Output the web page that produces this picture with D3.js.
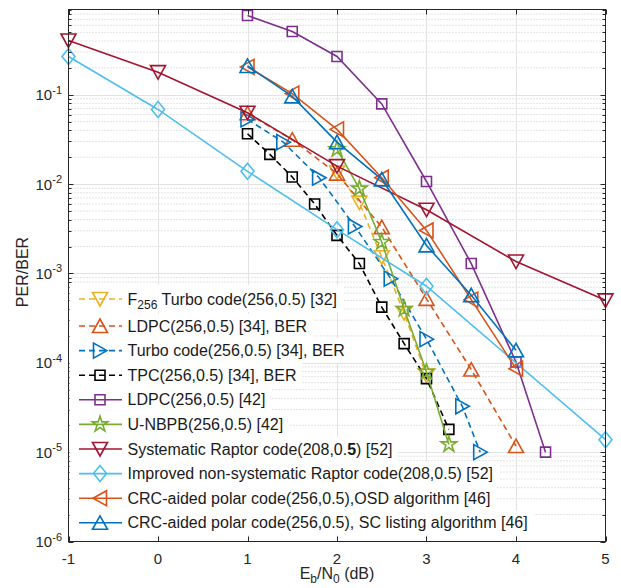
<!DOCTYPE html>
<html>
<head>
<meta charset="utf-8">
<script src="https://cdn.jsdelivr.net/npm/d3@7"></script>
<style>
  html, body { margin: 0; padding: 0; background: #fff; }
  svg { display: block; font-family: "Liberation Sans", Arial, Helvetica, sans-serif; }
</style>
</head>
<body>
<svg id="chart" width="621" height="588"></svg>
<script>
// ---- data ----
const xTicks = [-1, 0, 1, 2, 3, 4, 5];
const yTickExponents = [-6, -5, -4, -3, -2, -1];

const f256TurboX = [2, 2.25, 2.5, 2.75, 3];
const f256TurboY = [0.0135, 0.0062, 0.00152, 3.6e-4, 7.2e-5];

const ldpcBerX = [1, 1.5, 2, 2.5, 3, 3.5, 4];
const ldpcBerY = [0.062, 0.0314, 0.0131, 0.0033, 5.2e-4, 8.4e-5, 1.17e-5];

const turboBerX = [1, 1.4, 1.8, 2.2, 2.6, 3, 3.4, 3.6];
const turboBerY = [0.053, 0.0295, 0.0118, 0.00336, 8.75e-4, 1.84e-4, 3.26e-5, 1.0e-5];

const tpcBerX = [1, 1.25, 1.5, 1.75, 2, 2.25, 2.5, 2.75, 3, 3.25];
const tpcBerY = [0.0366, 0.0215, 0.012, 0.006, 0.00267, 0.00129, 4.2e-4, 1.64e-4, 6.65e-5, 1.8e-5];

const ldpc42X = [1, 1.5, 2, 2.5, 3, 3.5, 4, 4.33];
const ldpc42Y = [0.77, 0.51, 0.268, 0.079, 0.0107, 0.00129, 1.02e-4, 1.0e-5];

const unbpbX = [2, 2.25, 2.5, 2.75, 3, 3.25];
const unbpbY = [0.0245, 0.0089, 0.00225, 4.0e-4, 7.9e-5, 1.22e-5];

const sysRaptorX = [-1, 0, 1, 2, 3, 4, 5];
const sysRaptorY = [0.405, 0.179, 0.063, 0.0159, 0.00517, 0.00136, 5.0e-4];

const impRaptorX = [-1, 0, 1, 2, 3, 5];
const impRaptorY = [0.268, 0.0685, 0.0139, 0.00309, 7.2e-4, 1.38e-5];

const polarOsdX = [1, 1.5, 2, 2.5, 3, 3.5, 4];
const polarOsdY = [0.205, 0.103, 0.041, 0.0118, 0.00303, 5.1e-4, 8.6e-5];

const polarScX = [1, 1.5, 2, 2.5, 3, 3.5, 4];
const polarScY = [0.21, 0.096, 0.0295, 0.0113, 0.00206, 5.7e-4, 1.38e-4];

// ---- series styling ----
const series = [
  { x: f256TurboX, y: f256TurboY, color: "#EDB120", marker: "down",    dashed: true,
    label: [["F", ""], ["256", "sub"], [" Turbo code(256,0.5) [32]", ""]] },
  { x: ldpcBerX,   y: ldpcBerY,   color: "#D95319", marker: "up",      dashed: true,
    label: [["LDPC(256,0.5) [34], BER", ""]] },
  { x: turboBerX,  y: turboBerY,  color: "#0072BD", marker: "right",   dashed: true,
    label: [["Turbo code(256,0.5) [34], BER", ""]] },
  { x: tpcBerX,    y: tpcBerY,    color: "#000000", marker: "square",  dashed: true,
    label: [["TPC(256,0.5) [34], BER", ""]] },
  { x: ldpc42X,    y: ldpc42Y,    color: "#7E2F8E", marker: "square",  dashed: false,
    label: [["LDPC(256,0.5) [42]", ""]] },
  { x: unbpbX,     y: unbpbY,     color: "#77AC30", marker: "star",    dashed: false,
    label: [["U-NBPB(256,0.5) [42]", ""]] },
  { x: sysRaptorX, y: sysRaptorY, color: "#A2142F", marker: "down",    dashed: false,
    label: [["Systematic Raptor code(208,0.", ""], ["5", "bold"], [") [52]", ""]] },
  { x: impRaptorX, y: impRaptorY, color: "#4DBEEE", marker: "diamond", dashed: false,
    label: [["Improved non-systematic Raptor code(208,0.5) [52]", ""]] },
  { x: polarOsdX,  y: polarOsdY,  color: "#D95319", marker: "left",    dashed: false,
    label: [["CRC-aided polar code(256,0.5),OSD algorithm [46]", ""]] },
  { x: polarScX,   y: polarScY,   color: "#0072BD", marker: "up",      dashed: false,
    label: [["CRC-aided polar code(256,0.5), SC listing algorithm [46]", ""]] }
];

// ---- layout ----
const plot = { left: 68.5, right: 605.5, top: 9.5, bottom: 541.5 };
const svg = d3.select("#chart");

const x = d3.scaleLinear().domain([-1, 5]).range([plot.left, plot.right]);
const y = d3.scaleLog().domain([1e-6, 0.9]).range([plot.bottom, plot.top]);

// marker outlines centred on (0,0)
function markerPath(type) {
  switch (type) {
    case "square":  return "M-5,-5H5V5H-5Z";
    case "up":      return "M0,-7L7.5,6.5L-7.5,6.5Z";
    case "down":    return "M0,7L7.5,-6.5L-7.5,-6.5Z";
    case "right":   return "M7,0L-6.5,-7.5L-6.5,7.5Z";
    case "left":    return "M-7,0L6.5,-7.5L6.5,7.5Z";
    case "diamond": return "M0,-8L6.5,0L0,8L-6.5,0Z";
    case "star": {
      const pts = [];
      for (let i = 0; i < 10; i++) {
        const a = -Math.PI / 2 + i * Math.PI / 5;
        const r = i % 2 === 0 ? 8.2 : 8.2 * 0.382;
        pts.push([r * Math.cos(a), r * Math.sin(a)]);
      }
      return "M" + pts.map(p => p[0].toFixed(2) + "," + p[1].toFixed(2)).join("L") + "Z";
    }
  }
}

// ---- grid ----
const grid = svg.append("g");
const minorVals = [];
for (let e = -6; e < 0; e++) {
  for (let m = 2; m <= 9; m++) {
    const v = m * Math.pow(10, e);
    if (v <= 0.9) minorVals.push(v);
  }
}
grid.selectAll("line.minor").data(minorVals).join("line")
  .attr("x1", plot.left).attr("x2", plot.right)
  .attr("y1", d => y(d)).attr("y2", d => y(d))
  .attr("stroke", "#c8c8c8").attr("stroke-width", 1)
  .attr("stroke-dasharray", "1,2");
grid.selectAll("line.majy").data(yTickExponents.slice(1)).join("line")
  .attr("x1", plot.left).attr("x2", plot.right)
  .attr("y1", d => Math.round(y(Math.pow(10, d))) + 0.5)
  .attr("y2", d => Math.round(y(Math.pow(10, d))) + 0.5)
  .attr("stroke", "#e2e2e2").attr("stroke-width", 1);
grid.selectAll("line.majx").data(xTicks.slice(1, -1)).join("line")
  .attr("x1", d => Math.round(x(d)) + 0.5).attr("x2", d => Math.round(x(d)) + 0.5)
  .attr("y1", plot.top).attr("y2", plot.bottom)
  .attr("stroke", "#e2e2e2").attr("stroke-width", 1);

// ---- data ----
const line = d3.line().x(d => x(d[0])).y(d => y(d[1]));
const dataG = svg.append("g");
series.forEach(s => {
  const pts = s.x.map((v, i) => [v, s.y[i]]);
  dataG.append("path").datum(pts)
    .attr("d", line)
    .attr("fill", "none")
    .attr("stroke", s.color)
    .attr("stroke-width", 1.6)
    .attr("stroke-dasharray", s.dashed ? "6,4" : null);
  dataG.selectAll(null).data(pts).join("path")
    .attr("transform", d => `translate(${x(d[0])},${y(d[1])})`)
    .attr("d", markerPath(s.marker))
    .attr("fill", "none")
    .attr("stroke", s.color)
    .attr("stroke-width", 1.6)
    .attr("stroke-linejoin", "miter");
});

// ---- axes box and ticks ----
const axG = svg.append("g").attr("stroke", "#262626").attr("stroke-width", 1);
axG.append("rect")
  .attr("x", plot.left).attr("y", plot.top)
  .attr("width", plot.right - plot.left).attr("height", plot.bottom - plot.top)
  .attr("fill", "none");
xTicks.forEach(t => {
  const px = Math.round(x(t)) + 0.5;
  axG.append("line").attr("x1", px).attr("x2", px).attr("y1", plot.bottom).attr("y2", plot.bottom - 5);
  axG.append("line").attr("x1", px).attr("x2", px).attr("y1", plot.top).attr("y2", plot.top + 5);
});
yTickExponents.forEach(e => {
  const py = Math.round(y(Math.pow(10, e))) + 0.5;
  axG.append("line").attr("x1", plot.left).attr("x2", plot.left + 5).attr("y1", py).attr("y2", py);
  axG.append("line").attr("x1", plot.right).attr("x2", plot.right - 5).attr("y1", py).attr("y2", py);
});
minorVals.forEach(v => {
  const py = Math.round(y(v)) + 0.5;
  axG.append("line").attr("x1", plot.left).attr("x2", plot.left + 3).attr("y1", py).attr("y2", py);
  axG.append("line").attr("x1", plot.right).attr("x2", plot.right - 3).attr("y1", py).attr("y2", py);
});

// tick labels
const lbl = svg.append("g").attr("fill", "#262626").attr("font-size", 15);
lbl.selectAll("text.xt").data(xTicks).join("text")
  .attr("x", d => x(d)).attr("y", plot.bottom + 22)
  .attr("text-anchor", "middle")
  .text(d => d < 0 ? "-" + Math.abs(d) : d);
yTickExponents.forEach(e => {
  const t = lbl.append("text")
    .attr("x", 62).attr("y", y(Math.pow(10, e)) + 5.5)
    .attr("text-anchor", "end");
  t.append("tspan").text("10");
  t.append("tspan").attr("font-size", 11).attr("dy", -6.5).text("-" + Math.abs(e));
});

// axis titles
const xl = svg.append("text")
  .attr("x", 337).attr("y", 579)
  .attr("text-anchor", "middle").attr("font-size", 16).attr("fill", "#262626");
xl.append("tspan").text("E");
xl.append("tspan").attr("font-size", 12).attr("dy", 4).text("b");
xl.append("tspan").attr("dy", -4).text("/N");
xl.append("tspan").attr("font-size", 12).attr("dy", 4).text("0");
xl.append("tspan").attr("dy", -4).text(" (dB)");

svg.append("text")
  .attr("transform", "translate(28,272) rotate(-90)")
  .attr("text-anchor", "middle").attr("font-size", 16).attr("fill", "#262626")
  .text("PER/BER");

// ---- legend ----
const legG = svg.append("g");
const rowY = i => i === 0 ? 299 : 326 + (i - 1) * 24.6;
series.forEach((s, i) => {
  const cy = rowY(i);
  const row = legG.append("g");
  const bg = row.append("rect").attr("fill", "#fff");
  const text = row.append("text")
    .attr("x", 127.5).attr("y", cy + 5.5)
    .attr("font-size", 16).attr("fill", "#1a1a1a");
  s.label.forEach(([str, kind]) => {
    const ts = text.append("tspan").text(str);
    if (kind === "sub") ts.attr("font-size", 12).attr("dy", 4);
    else if (kind === "bold") ts.attr("font-weight", "bold");
    if (kind !== "sub" && text.selectAll("tspan").size() > 1 && s.label[0][1] === "" &&
        s.label.some(p => p[1] === "sub")) ts.attr("dy", -4);
  });
  const w = text.node().getComputedTextLength();
  bg.attr("x", plot.left + 1).attr("y", cy - (i === 0 ? 14 : 12.3))
    .attr("width", 127.5 + w + 6 - plot.left - 1)
    .attr("height", i === 0 ? 27 : 24.6);
  row.append("line")
    .attr("x1", 79).attr("x2", 122).attr("y1", cy).attr("y2", cy)
    .attr("stroke", s.color).attr("stroke-width", 1.6)
    .attr("stroke-dasharray", s.dashed ? "6,4" : null);
  row.append("path")
    .attr("transform", `translate(100,${cy})`)
    .attr("d", markerPath(s.marker))
    .attr("fill", "none").attr("stroke", s.color).attr("stroke-width", 1.6);
});
</script>
</body>
</html>
